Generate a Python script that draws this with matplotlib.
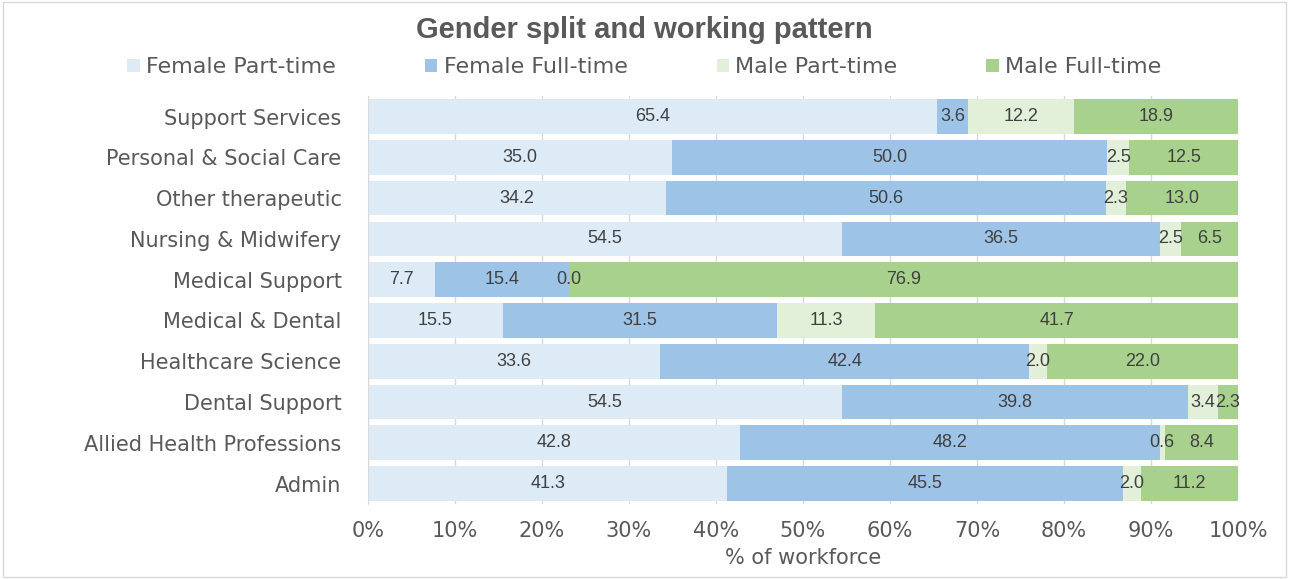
import matplotlib
matplotlib.use("Agg")
import matplotlib.pyplot as plt
from matplotlib.patches import Rectangle
import numpy as np

categories = ["Admin", "Allied Health Professions", "Dental Support", "Healthcare Science",
              "Medical & Dental", "Medical Support", "Nursing & Midwifery",
              "Other therapeutic", "Personal & Social Care", "Support Services"]
female_pt = [41.3, 42.8, 54.5, 33.6, 15.5, 7.7, 54.5, 34.2, 35.0, 65.4]
female_ft = [45.5, 48.2, 39.8, 42.4, 31.5, 15.4, 36.5, 50.6, 50.0, 3.6]
male_pt = [2.0, 0.6, 3.4, 2.0, 11.3, 0.0, 2.5, 2.3, 2.5, 12.2]
male_ft = [11.2, 8.4, 2.3, 22.0, 41.7, 76.9, 6.5, 13.0, 12.5, 18.9]
series_names = ["Female Part-time", "Female Full-time", "Male Part-time", "Male Full-time"]
colors = ["#DDEBF7", "#9DC3E6", "#E2F0D9", "#A9D18E"]

plt.rcParams['font.family'] = ['DejaVu Sans']
txt = "#595959"

fig = plt.figure(figsize=(12.89, 5.79), dpi=100)
ax = fig.add_axes([0.2855, 0.1295, 0.6749, 0.7045])

series = [female_pt, female_ft, male_pt, male_ft]
y = np.arange(len(categories))
left = np.zeros(len(categories))
for name, vals, c in zip(series_names, series, colors):
    vals = np.array(vals)
    ax.barh(y, vals, left=left, height=0.85, color=c, label=name, zorder=2)
    for yi, l, v in zip(y, left, vals):
        ax.text(l + v / 2, yi, f"{v:.1f}", ha="center", va="center",
                fontsize=13, color="#404040", zorder=3,
                family=["Liberation Sans", "DejaVu Sans"])
    left = left + vals

ax.set_xlim(0, 100)
ax.set_ylim(-0.5, len(categories) - 0.5)
ax.set_yticks(y)
ax.set_yticklabels(categories, fontsize=15, color=txt)
ax.set_xticks(np.arange(0, 101, 10))
ax.set_xticklabels([f"{v}%" for v in range(0, 101, 10)], fontsize=15, color=txt)
ax.tick_params(axis="y", length=0, pad=19)
ax.tick_params(axis="x", length=0, pad=12)
ax.xaxis.grid(True, color="#D9D9D9", linewidth=1, zorder=0)
ax.set_axisbelow(True)
for s in ax.spines.values():
    s.set_visible(False)
ax.spines["left"].set_visible(True)
ax.spines["left"].set_color("#D9D9D9")
ax.set_xlabel("% of workforce", fontsize=15, color=txt, labelpad=5)

fig.text(0.5, 0.948, "Gender split and working pattern", ha="center", va="center",
         fontsize=21, fontweight="bold", color=txt, family=["Liberation Sans", "DejaVu Sans"])
leg = fig.legend(loc="center", bbox_to_anchor=(0.5, 0.884), ncol=4, frameon=False,
                 fontsize=16, handlelength=0.55, handleheight=0.55, handletextpad=0.3,
                 columnspacing=4.0)
for t in leg.get_texts():
    t.set_color(txt)

fig.patches.append(Rectangle((0.002, 0.003), 0.996, 0.994, transform=fig.transFigure,
                             fill=False, edgecolor="#D9D9D9", linewidth=1))

fig.savefig("out.png", dpi=100, facecolor="white")
